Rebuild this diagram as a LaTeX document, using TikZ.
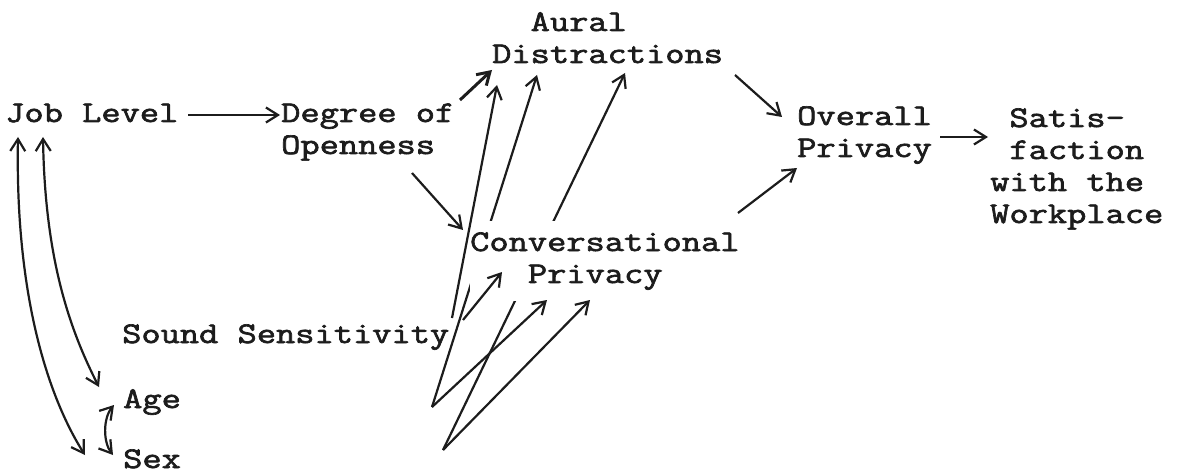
\documentclass[tikz,border=0pt]{standalone}
\usepackage{fontspec}
\setmonofont{Latin Modern Mono}[FakeStretch=1.245, FakeBold=2.2]
\usetikzlibrary{arrows.meta,calc}
\pgfdeclarelayer{background}
\pgfsetlayers{background,main}
\definecolor{ink}{RGB}{28,28,28}
% several lines of text whose baseline is the first line's
\newcommand{\stacked}[1]{\begin{tabular}[t]{@{}l@{}}#1\end{tabular}}

\begin{document}
\begin{tikzpicture}[x=1pt,y=-1pt,
  txt/.style={anchor=base west, inner sep=0pt, text=ink,
    font=\ttfamily\fontsize{30}{32}\selectfont},
  arr/.style={draw=ink, line width=2.2pt,
    -{Straight Barb[length=12pt,width=15pt]}},
  twoway/.style={draw=ink, line width=2.2pt,
    {Straight Barb[length=12pt,width=15pt]}-{Straight Barb[length=12pt,width=15pt]}}]

\path[use as bounding box] (0,0) rectangle (1177,473);

% variables
\node[txt] (job) at (5,122) {Job Level};
\node[txt] (deg) at (281,122) {\stacked{Degree of\\Openness}};
\node[txt] (aural) at (492,31) {\stacked{\phantom{xx}Aural\\Distractions}};
\node[txt] (overall) at (797,125) {\stacked{Overall\\Privacy}};
\node[txt] (satis) at (990,127) {\stacked{\phantom{x}Satis-\\\phantom{x}faction\\with the\\Workplace}};
\node[txt, fill=white, inner ysep=8pt] (conv) at (470,251) {\stacked{Conversational\\\phantom{xxx}Privacy}};
\node[txt] (sound) at (122,343) {Sound Sensitivity};
\node[txt] (age) at (123,408) {Age};
\node[txt] (sex) at (123,468) {Sex};

% tails of the paths from age and sex
\coordinate (agetail) at (432,407);
\coordinate (sextail) at (443,450);

% paper, and the paths passing behind the conversational privacy label
\begin{pgfonlayer}{background}
\fill[white] (0,0) rectangle (1177,473);
\draw[arr] (agetail) -- ($(aural.base west)+(45,44)$);
\draw[arr] (sextail) -- ($(aural.base west)+(133,42)$);
\end{pgfonlayer}

\draw[arr] ($(job.base west)+(183,-7)$) -- ($(deg.base west)+(-1,-7)$);
\draw[arr, line width=3pt] ($(deg.base west)+(179,-22)$) -- ($(aural.base west)+(0,39)$);
\draw[arr] ($(deg.base west)+(131,51)$) -- ($(conv.base west)+(-7,-21)$);
\draw[arr] ($(aural.base west)+(243,44)$) -- ($(overall.base west)+(-15,-8)$);
\draw[arr] ($(conv.base west)+(268,-38)$) -- ($(overall.base west)+(0,43)$);
\draw[arr] ($(overall.base west)+(143,12)$) -- ($(satis.base west)+(-2,10)$);
\draw[arr] ($(sound.base west)+(330,-25)$) -- ($(aural.base west)+(5,54)$);
\draw[arr] ($(sound.base west)+(341,-23)$) -- ($(conv.base west)+(32,21)$);
\draw[arr] (agetail) -- ($(conv.base west)+(77,49)$);
\draw[arr] (sextail) -- ($(conv.base west)+(120,49)$);

% correlations among job level, age and sex
\draw[twoway] ($(job.base west)+(13,15)$) .. controls (15,300) and (50,400) .. ($(sex.base west)+(-38,-13)$);
\draw[twoway] ($(job.base west)+(38,15)$) .. controls (45,260) and (70,330) .. ($(age.base west)+(-24,-21)$);
\draw[twoway] ($(age.base west)+(-9,-3)$) .. controls (103,418) and (103,442) .. ($(sex.base west)+(-10,-13)$);
\end{tikzpicture}
\end{document}
